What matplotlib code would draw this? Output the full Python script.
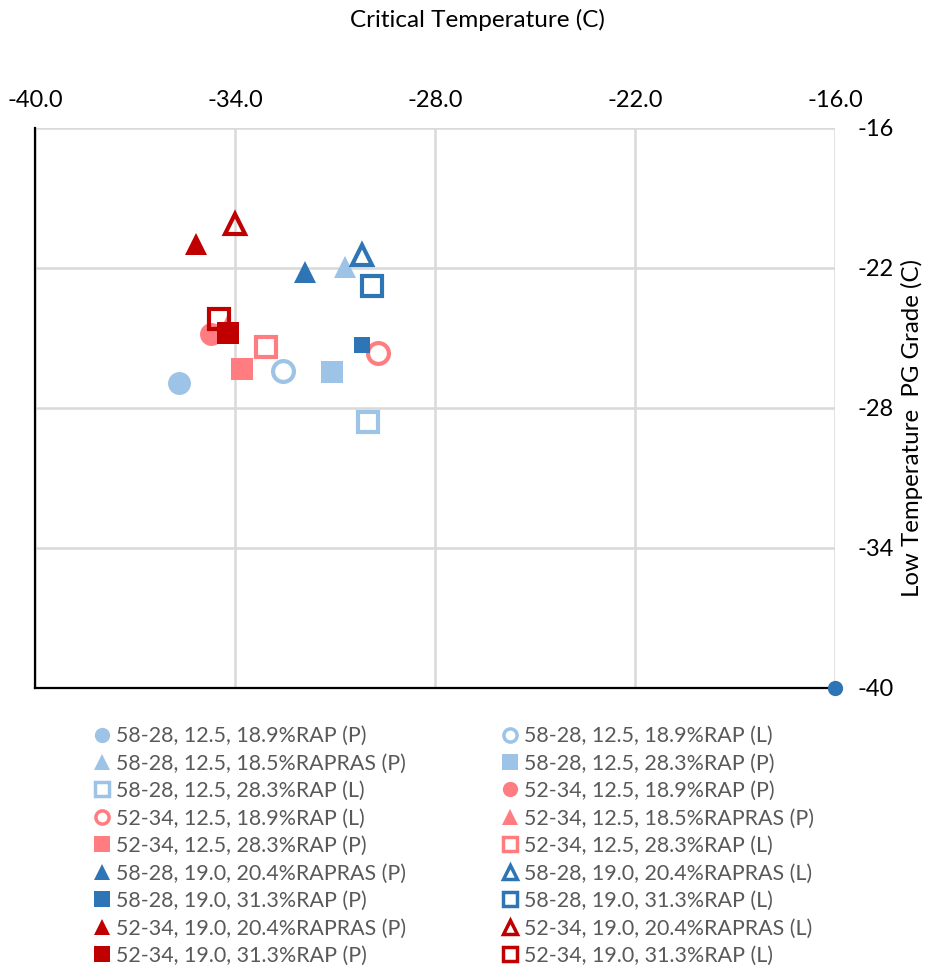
import matplotlib.pyplot as plt
from matplotlib.lines import Line2D

# series: binder grade, binder content, RAP content, (P)=plant / (L)=lab
labels = [
    '58-28, 12.5, 18.9%RAP (P)', '58-28, 12.5, 18.9%RAP (L)',
    '58-28, 12.5, 18.5%RAPRAS (P)', '58-28, 12.5, 28.3%RAP (P)',
    '58-28, 12.5, 28.3%RAP (L)', '52-34, 12.5, 18.9%RAP (P)',
    '52-34, 12.5, 18.9%RAP (L)', '52-34, 12.5, 18.5%RAPRAS (P)',
    '52-34, 12.5, 28.3%RAP (P)', '52-34, 12.5, 28.3%RAP (L)',
    '58-28, 19.0, 20.4%RAPRAS (P)', '58-28, 19.0, 20.4%RAPRAS (L)',
    '58-28, 19.0, 31.3%RAP (P)', '58-28, 19.0, 31.3%RAP (L)',
    '52-34, 19.0, 20.4%RAPRAS (P)', '52-34, 19.0, 20.4%RAPRAS (L)',
    '52-34, 19.0, 31.3%RAP (P)', '52-34, 19.0, 31.3%RAP (L)',
]
crit_temp = [-35.68, -32.56, -30.70, -31.09, -30.01, -34.72, -29.71, -34.24, -33.79,
             -33.07, -31.90, -30.19, -30.19, -29.89, -35.17, -34.00, -34.20, -34.49]
pg_low = [-26.93, -26.41, -21.96, -26.46, -28.60, -24.83, -25.64, -24.53, -26.33,
          -25.39, -22.17, -21.44, -25.30, -22.77, -20.97, -20.11, -24.79, -24.19]

# extra point sitting on the axis corner
extra_x = [-16]
extra_y = [-40]

light_blue = '#9DC3E6'
salmon = '#FF7C80'
dark_blue = '#2E75B6'
dark_red = '#C00000'
colors = [light_blue] * 5 + [salmon] * 5 + [dark_blue] * 4 + [dark_red] * 4
markers = ['o', 'o', '^', 's', 's', 'o', 'o', '^', 's', 's',
           '^', '^', 's', 's', '^', '^', 's', 's']
filled = [True, False, True, True, False, True, False, True, True, False,
          True, False, True, False, True, False, True, False]
sizes = [16.5] * 18
sizes[12] = 11

plt.rcParams['font.family'] = ['Lato', 'DejaVu Sans']
plt.rcParams['axes.unicode_minus'] = False

fig = plt.figure(figsize=(9.27, 9.68), dpi=100)
ax = fig.add_axes([35 / 927, 1 - 688 / 968, 800 / 927, 560 / 968])

for i in range(len(labels)):
    if filled[i]:
        ax.plot(crit_temp[i], pg_low[i], marker=markers[i], ms=sizes[i], color=colors[i],
                mew=0, ls='none', clip_on=False, zorder=3)
    else:
        ax.plot(crit_temp[i], pg_low[i], marker=markers[i], ms=sizes[i] - 1.5, mfc='none',
                mec=colors[i], mew=3, ls='none', clip_on=False, zorder=3)

ax.plot(extra_x, extra_y, 'o', ms=11, color=dark_blue, mew=0, clip_on=False, zorder=4)

ax.set_xlim(-40, -16)
ax.set_ylim(-40, -16)
ax.set_xticks([-40, -34, -28, -22, -16])
ax.set_xticklabels(['-40.0', '-34.0', '-28.0', '-22.0', '-16.0'])
ax.set_yticks([-40, -34, -28, -22, -16])
ax.xaxis.tick_top()
ax.yaxis.tick_right()
ax.xaxis.set_label_position('top')
ax.yaxis.set_label_position('right')
ax.tick_params(length=0, labelsize=17, colors='#000000')
ax.tick_params(axis='x', pad=12)
ax.tick_params(axis='y', pad=16)

ax.grid(True, color='#D9D9D9', lw=1.8)
ax.set_axisbelow(True)
ax.spines['top'].set_visible(False)
ax.spines['right'].set_visible(False)
ax.spines['left'].set_linewidth(1.6)
ax.spines['bottom'].set_linewidth(1.6)
ax.spines['left'].set_zorder(2.5)
ax.spines['bottom'].set_zorder(2.5)

xl = ax.set_xlabel('Critical Temperature (C)', fontsize=17.5)
ax.xaxis.set_label_coords((477 - 35) / 800, (688 - 20) / 560)
xl.set_va('center')
yl = ax.set_ylabel('Low Temperature  PG Grade (C)', fontsize=17.3)
ax.yaxis.set_label_coords((912 - 35) / 800, (688 - 428) / 560)
yl.set_va('center')
yl.set_ha('center')

# legend: two columns laid out row by row like the original
handles = []
for i in range(len(labels)):
    if filled[i]:
        h = Line2D([], [], marker=markers[i], ms=11, color=colors[i], mew=0, ls='none')
    else:
        h = Line2D([], [], marker=markers[i], ms=9.5, mfc='none', mec=colors[i], mew=2.5, ls='none')
    handles.append(h)

for col, x0 in [(0, 93.5), (1, 501.5)]:
    idx = list(range(col, 18, 2))
    leg = fig.legend([handles[k] for k in idx], [labels[k] for k in idx],
                     loc='upper left', bbox_to_anchor=(x0 / 927, 1 - 726 / 968),
                     frameon=False, fontsize=15.4, handlelength=0.8, handletextpad=0.26,
                     labelspacing=0.35, borderpad=0, borderaxespad=0)
    for t in leg.get_texts():
        t.set_color('#595959')

fig.savefig('out.png', dpi=100)
